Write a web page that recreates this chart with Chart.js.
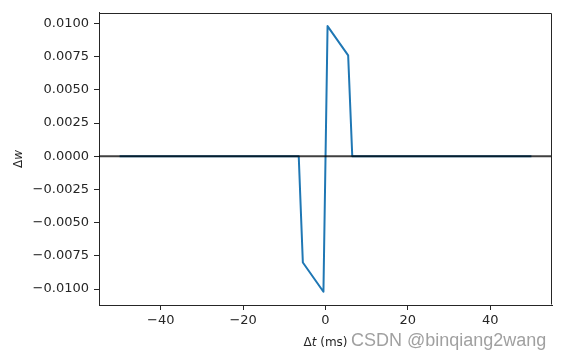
<!DOCTYPE html>
<html>
<head>
<meta charset="utf-8">
<script src="https://cdn.jsdelivr.net/npm/chart.js@4/dist/chart.umd.min.js"></script>
<style>
  html, body { margin: 0; padding: 0; background: #ffffff; }
  #wrap { width: 561px; height: 359px; }
</style>
</head>
<body>
<div id="wrap"><canvas id="c" width="561" height="359"></canvas></div>
<script>
// ---- data ----
const dtValues = [-50, -6.5, -5.5, -0.5, 0.5, 5.5, 6.5, 50];          // Δt (ms)
const dwValues = [0, 0, -0.0080, -0.0102, 0.0098, 0.0076, 0, 0];       // Δw
const zeroLineX = [-55, 55];
const zeroLineY = [0, 0];
const xTicks = [-40, -20, 0, 20, 40];
const yTicks = [-0.0100, -0.0075, -0.0050, -0.0025, 0.0000, 0.0025, 0.0050, 0.0075, 0.0100];
const xLimits = [-55, 55];
const yLimits = [-0.0112, 0.0108];
const xLabel = ['Δ', 't', ' (ms)'];
const yLabel = ['Δ', 'w'];
const watermark = 'CSDN @binqiang2wang';

const minus = s => s.replace('-', '\u2212');
const tickColor = '#262626';
const tickFont = { family: 'DejaVu Sans', size: 13 };

const framePlugin = {
  id: 'frame',
  afterDraw(chart) {
    const ctx = chart.ctx, a = chart.chartArea;
    ctx.save();
    ctx.strokeStyle = tickColor;
    ctx.lineWidth = 1;
    ctx.beginPath();
    ctx.moveTo(Math.round(a.left) + 0.5, Math.round(a.top) + 0.5);
    ctx.lineTo(Math.round(a.right) - 0.5, Math.round(a.top) + 0.5);
    ctx.lineTo(Math.round(a.right) - 0.5, Math.round(a.bottom) - 0.5);
    ctx.stroke();

    // x label: "Δt (ms)", centered under the plot
    const cx = (a.left + a.right) / 2;
    ctx.fillStyle = tickColor;
    ctx.textBaseline = 'alphabetic';
    const fN = '12px "DejaVu Sans"', fI = 'italic 12px "DejaVu Sans"';
    ctx.font = fN; const w0 = ctx.measureText(xLabel[0]).width;
    ctx.font = fI; const w1 = ctx.measureText(xLabel[1]).width;
    ctx.font = fN; const w2 = ctx.measureText(xLabel[2]).width;
    let x = cx - (w0 + w1 + w2) / 2;
    const by = 346;
    ctx.textAlign = 'left';
    ctx.font = fN; ctx.fillText(xLabel[0], x, by); x += w0;
    ctx.font = fI; ctx.fillText(xLabel[1], x, by); x += w1;
    ctx.font = fN; ctx.fillText(xLabel[2], x, by);

    // y label: "Δw", rotated
    const cy = (a.top + a.bottom) / 2;
    ctx.save();
    ctx.translate(22, cy);
    ctx.rotate(-Math.PI / 2);
    ctx.font = fN; const v0 = ctx.measureText(yLabel[0]).width;
    ctx.font = fI; const v1 = ctx.measureText(yLabel[1]).width;
    let yx = -(v0 + v1) / 2;
    ctx.font = fN; ctx.fillText(yLabel[0], yx, 0); yx += v0;
    ctx.font = fI; ctx.fillText(yLabel[1], yx, 0);
    ctx.restore();

    // watermark
    ctx.font = '18px "Liberation Sans"';
    ctx.fillStyle = 'rgba(150,150,150,0.9)';
    ctx.textAlign = 'left';
    ctx.fillText(watermark, 351, 345.5);
    ctx.restore();
  }
};

new Chart(document.getElementById('c'), {
  type: 'line',
  data: {
    datasets: [
      {
        data: zeroLineX.map((v, i) => ({ x: v, y: zeroLineY[i] })),
        borderColor: 'rgba(0,0,0,0.75)',
        borderWidth: 2,
        pointRadius: 0,
        tension: 0,
        order: 0
      },
      {
        data: dtValues.map((v, i) => ({ x: v, y: dwValues[i] })),
        borderColor: '#1f77b4',
        borderWidth: 2,
        borderJoinStyle: 'round',
        pointRadius: 0,
        tension: 0,
        order: 1
      }
    ]
  },
  options: {
    responsive: false,
    animation: false,
    devicePixelRatio: 1,
    layout: { padding: { left: 0, top: 10, right: 9, bottom: 0 } },
    plugins: { legend: { display: false }, tooltip: { enabled: false } },
    scales: {
      x: {
        type: 'linear',
        position: 'bottom',
        min: xLimits[0], max: xLimits[1],
        afterFit(s) { s.height = 54; },
        afterBuildTicks(s) { s.ticks = xTicks.map(v => ({ value: v })); },
        ticks: {
          font: tickFont, color: tickColor, padding: 3, maxRotation: 0,
          autoSkip: false,
          callback: v => minus(String(v))
        },
        grid: { drawOnChartArea: false, drawTicks: true, tickLength: 5, color: tickColor, tickWidth: 1 },
        border: { display: true, color: tickColor, width: 1 }
      },
      y: {
        type: 'linear',
        position: 'left',
        min: yLimits[0], max: yLimits[1],
        afterFit(s) { s.width = 99; },
        afterBuildTicks(s) { s.ticks = yTicks.map(v => ({ value: v })); },
        ticks: {
          font: tickFont, color: tickColor, padding: 5,
          autoSkip: false,
          callback: v => minus(Number(v).toFixed(4))
        },
        grid: { drawOnChartArea: false, drawTicks: true, tickLength: 5, color: tickColor, tickWidth: 1 },
        border: { display: true, color: tickColor, width: 1 }
      }
    }
  },
  plugins: [framePlugin]
});
</script>
</body>
</html>
